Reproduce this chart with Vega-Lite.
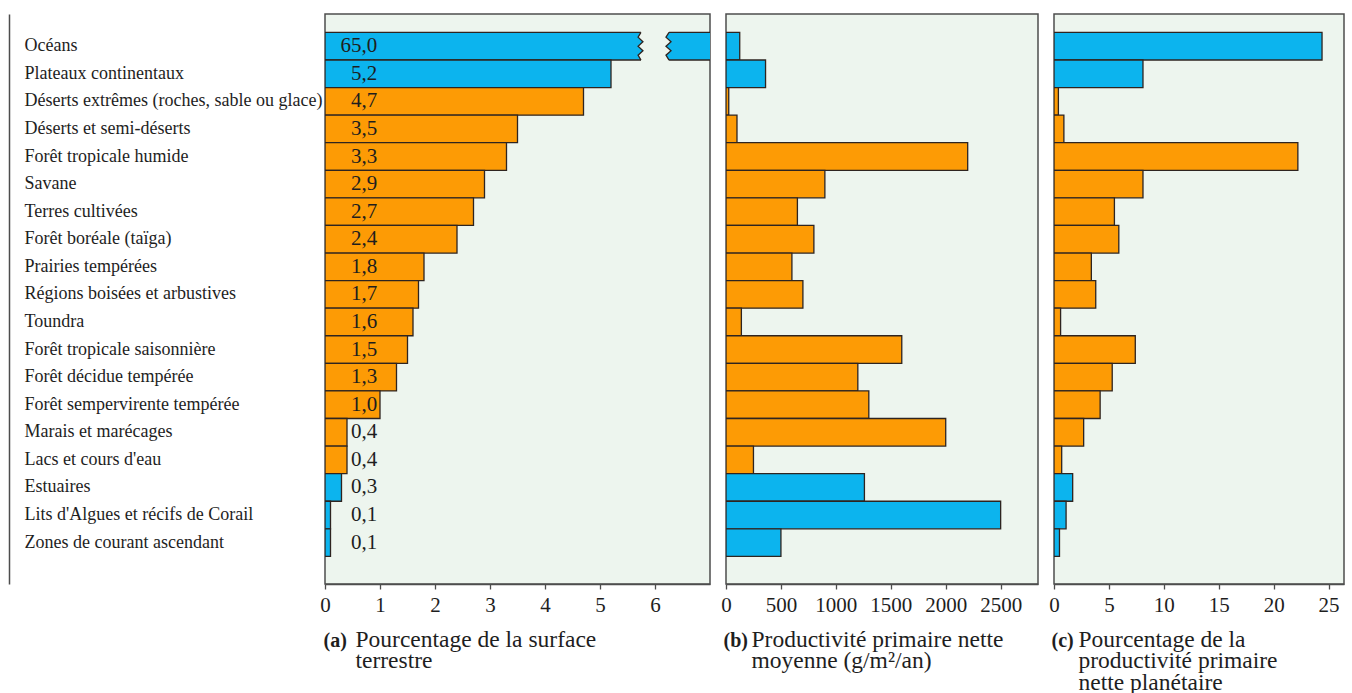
{
  "$schema": "https://vega.github.io/schema/vega-lite/v6.json",
  "background": "white",
  "padding": {"left": 8, "top": 13, "right": 4, "bottom": 0},
  "bounds": "flush",
  "datasets": {
    "biomes": [
      {"name": "Océans", "group": "eau", "area": 65.0, "npp": 125, "share": 24.4},
      {"name": "Plateaux continentaux", "group": "eau", "area": 5.2, "npp": 360, "share": 8.1},
      {"name": "Déserts extrêmes (roches, sable ou glace)", "group": "terre", "area": 4.7, "npp": 25, "share": 0.4},
      {"name": "Déserts et semi-déserts", "group": "terre", "area": 3.5, "npp": 100, "share": 0.9},
      {"name": "Forêt tropicale humide", "group": "terre", "area": 3.3, "npp": 2200, "share": 22.2},
      {"name": "Savane", "group": "terre", "area": 2.9, "npp": 900, "share": 8.1},
      {"name": "Terres cultivées", "group": "terre", "area": 2.7, "npp": 650, "share": 5.5},
      {"name": "Forêt boréale (taïga)", "group": "terre", "area": 2.4, "npp": 800, "share": 5.9},
      {"name": "Prairies tempérées", "group": "terre", "area": 1.8, "npp": 600, "share": 3.4},
      {"name": "Régions boisées et arbustives", "group": "terre", "area": 1.7, "npp": 700, "share": 3.8},
      {"name": "Toundra", "group": "terre", "area": 1.6, "npp": 140, "share": 0.6},
      {"name": "Forêt tropicale saisonnière", "group": "terre", "area": 1.5, "npp": 1600, "share": 7.4},
      {"name": "Forêt décidue tempérée", "group": "terre", "area": 1.3, "npp": 1200, "share": 5.3},
      {"name": "Forêt sempervirente tempérée", "group": "terre", "area": 1.0, "npp": 1300, "share": 4.2},
      {"name": "Marais et marécages", "group": "terre", "area": 0.4, "npp": 2000, "share": 2.7},
      {"name": "Lacs et cours d'eau", "group": "terre", "area": 0.4, "npp": 250, "share": 0.7},
      {"name": "Estuaires", "group": "eau", "area": 0.3, "npp": 1260, "share": 1.7},
      {"name": "Lits d'Algues et récifs de Corail", "group": "eau", "area": 0.1, "npp": 2500, "share": 1.1},
      {"name": "Zones de courant ascendant", "group": "eau", "area": 0.1, "npp": 500, "share": 0.5}
    ]
  },
  "spacing": 16,
  "hconcat": [
    {
      "width": 385,
      "height": 570,
      "data": {"name": "biomes"},
      "layer": [
        {
          "layer": [
            {
              "mark": {"type": "bar", "clip": true, "stroke": "#2e2420", "strokeWidth": 1.3},
              "encoding": {
                "y": {"field": "name", "type": "nominal", "sort": null,
                  "scale": {"range": [18.4, 542.4], "paddingInner": 0, "paddingOuter": 0},
                  "axis": {"orient": "left", "title": null, "ticks": false, "tickSize": 0, "domain": false, "grid": false,
                    "labelAlign": "left", "labelPadding": 301, "labelFontSize": 18, "labelBaseline": "middle", "labelLimit": 400}},
                "x": {"field": "area", "type": "quantitative", "scale": {"domain": [0, 7], "nice": false, "zero": true},
                  "axis": {"orient": "bottom", "values": [0, 1, 2, 3, 4, 5, 6], "format": "d", "labelFlush": false,
                    "labelFontSize": 21, "labelPadding": 5, "tickSize": 5, "tickWidth": 1.3, "domainWidth": 1.5, "grid": false,
                    "title": ["Pourcentage de la surface", "terrestre"], "titleFontSize": 23.5, "titleFontWeight": "normal",
                    "titleX": 30, "titleY": 62, "titleAlign": "left", "titleAnchor": "start", "titleBaseline": "alphabetic", "titleLineHeight": 21.5}},
                "color": {"field": "group", "type": "nominal", "scale": {"domain": ["eau", "terre"], "range": ["#0cb4ee", "#fd9b05"]}, "legend": null}
              }
            },
            {
              "transform": [{"filter": "datum.name === 'Océans'"}],
              "mark": {"type": "point", "shape": "M -0.78 -0.86 L -0.78 -0.77 L -0.94 -0.5 L -0.67 -0.25 L -0.94 0 L -0.67 0.25 L -0.94 0.5 L -0.78 0.77 L -0.78 0.86 L 0.78 0.86 L 0.78 0.77 L 0.61 0.5 L 0.89 0.25 L 0.61 0 L 0.89 -0.25 L 0.61 -0.5 L 0.78 -0.77 L 0.78 -0.86 Z",
                "size": 1296, "filled": true, "fill": "#edf5ee", "opacity": 1, "strokeWidth": 0},
              "encoding": {
                "y": {"field": "name", "type": "nominal", "sort": null},
                "x": {"datum": 6.0, "type": "quantitative"}
              }
            },
            {
              "transform": [{"filter": "datum.name === 'Océans'"}],
              "mark": {"type": "point", "shape": "M -0.78 -0.77 L -0.94 -0.5 L -0.67 -0.25 L -0.94 0 L -0.67 0.25 L -0.94 0.5 L -0.78 0.77 M 0.78 -0.77 L 0.61 -0.5 L 0.89 -0.25 L 0.61 0 L 0.89 0.25 L 0.61 0.5 L 0.78 0.77",
                "size": 1296, "filled": false, "stroke": "#2e2420", "strokeWidth": 1.3, "opacity": 1},
              "encoding": {
                "y": {"field": "name", "type": "nominal", "sort": null},
                "x": {"datum": 6.0, "type": "quantitative"}
              }
            },
            {
              "mark": {"type": "text", "align": "right", "baseline": "middle", "fontSize": 21, "font": "Liberation Serif", "color": "#1e1e1e"},
              "encoding": {
                "y": {"field": "name", "type": "nominal", "sort": null},
                "x": {"datum": 0.95, "type": "quantitative"},
                "text": {"field": "area", "type": "quantitative", "format": ".1f"}
              }
            }
          ]
        },
        {
          "mark": {"type": "text", "text": "", "clip": true},
          "encoding": {
            "x": {"field": "area", "type": "quantitative", "scale": {"domain": [0, 7], "nice": false},
              "axis": {"orient": "bottom", "labels": false, "ticks": false, "domain": false, "grid": false,
                "title": "(a)", "titleFontWeight": "bold", "titleFontSize": 20, "titleX": -2, "titleY": 62,
                "titleAlign": "left", "titleAnchor": "start", "titleBaseline": "alphabetic"}},
            "y": {"field": "name", "type": "nominal", "sort": null, "scale": {"range": [0, 570]},
              "axis": {"orient": "left", "offset": 316, "labels": false, "ticks": false, "domain": true, "grid": false, "title": null, "domainWidth": 1.5}}
          }
        }
      ],
      "resolve": {"scale": {"x": "independent", "y": "independent"}, "axis": {"x": "independent", "y": "independent"}}
    },
    {
      "width": 312,
      "height": 570,
      "data": {"name": "biomes"},
      "layer": [
        {
          "mark": {"type": "bar", "clip": true, "stroke": "#2e2420", "strokeWidth": 1.3},
          "encoding": {
            "y": {"field": "name", "type": "nominal", "sort": null,
              "scale": {"range": [18.4, 542.4], "paddingInner": 0, "paddingOuter": 0}, "axis": null},
            "x": {"field": "npp", "type": "quantitative", "scale": {"domain": [0, 2840], "nice": false, "zero": true},
              "axis": {"orient": "bottom", "values": [0, 500, 1000, 1500, 2000, 2500], "format": "d", "labelFlush": false,
                "labelFontSize": 21, "labelPadding": 5, "tickSize": 5, "tickWidth": 1.3, "domainWidth": 1.5, "grid": false,
                "title": ["Productivité primaire nette", "moyenne (g/m²/an)"], "titleFontSize": 23.5, "titleFontWeight": "normal",
                "titleX": 25, "titleY": 62, "titleAlign": "left", "titleAnchor": "start", "titleBaseline": "alphabetic", "titleLineHeight": 21.5}},
            "color": {"field": "group", "type": "nominal", "scale": {"domain": ["eau", "terre"], "range": ["#0cb4ee", "#fd9b05"]}, "legend": null}
          }
        },
        {
          "mark": {"type": "text", "text": "", "clip": true},
          "encoding": {
            "x": {"field": "npp", "type": "quantitative", "scale": {"domain": [0, 2840], "nice": false},
              "axis": {"orient": "bottom", "labels": false, "ticks": false, "domain": false, "grid": false,
                "title": "(b)", "titleFontWeight": "bold", "titleFontSize": 20, "titleX": -3, "titleY": 62,
                "titleAlign": "left", "titleAnchor": "start", "titleBaseline": "alphabetic"}}
          }
        }
      ],
      "resolve": {"scale": {"x": "independent"}, "axis": {"x": "independent"}}
    },
    {
      "width": 290,
      "height": 570,
      "data": {"name": "biomes"},
      "layer": [
        {
          "mark": {"type": "bar", "clip": true, "stroke": "#2e2420", "strokeWidth": 1.3},
          "encoding": {
            "y": {"field": "name", "type": "nominal", "sort": null,
              "scale": {"range": [18.4, 542.4], "paddingInner": 0, "paddingOuter": 0}, "axis": null},
            "x": {"field": "share", "type": "quantitative", "scale": {"domain": [0, 26.4], "nice": false, "zero": true},
              "axis": {"orient": "bottom", "values": [0, 5, 10, 15, 20, 25], "format": "d", "labelFlush": false,
                "labelFontSize": 21, "labelPadding": 5, "tickSize": 5, "tickWidth": 1.3, "domainWidth": 1.5, "grid": false,
                "title": ["Pourcentage de la", "productivité primaire", "nette planétaire"], "titleFontSize": 23.5, "titleFontWeight": "normal",
                "titleX": 24, "titleY": 62, "titleAlign": "left", "titleAnchor": "start", "titleBaseline": "alphabetic", "titleLineHeight": 21.5}},
            "color": {"field": "group", "type": "nominal", "scale": {"domain": ["eau", "terre"], "range": ["#0cb4ee", "#fd9b05"]}, "legend": null}
          }
        },
        {
          "mark": {"type": "text", "text": "", "clip": true},
          "encoding": {
            "x": {"field": "share", "type": "quantitative", "scale": {"domain": [0, 26.4], "nice": false},
              "axis": {"orient": "bottom", "labels": false, "ticks": false, "domain": false, "grid": false,
                "title": "(c)", "titleFontWeight": "bold", "titleFontSize": 20, "titleX": -3, "titleY": 62,
                "titleAlign": "left", "titleAnchor": "start", "titleBaseline": "alphabetic"}}
          }
        }
      ],
      "resolve": {"scale": {"x": "independent"}, "axis": {"x": "independent"}}
    }
  ],
  "config": {
    "font": "Liberation Serif",
    "view": {"stroke": "#4d4d4d", "strokeWidth": 1.5, "fill": "#edf5ee"},
    "axis": {"labelFont": "Liberation Serif", "titleFont": "Liberation Serif", "labelColor": "#1e1e1e", "titleColor": "#1e1e1e",
      "domainColor": "#4d4d4d", "tickColor": "#4d4d4d", "grid": false},
    "locale": {"number": {"decimal": ",", "thousands": "\u00a0", "grouping": [3], "currency": ["", "\u00a0€"]}}
  }
}
